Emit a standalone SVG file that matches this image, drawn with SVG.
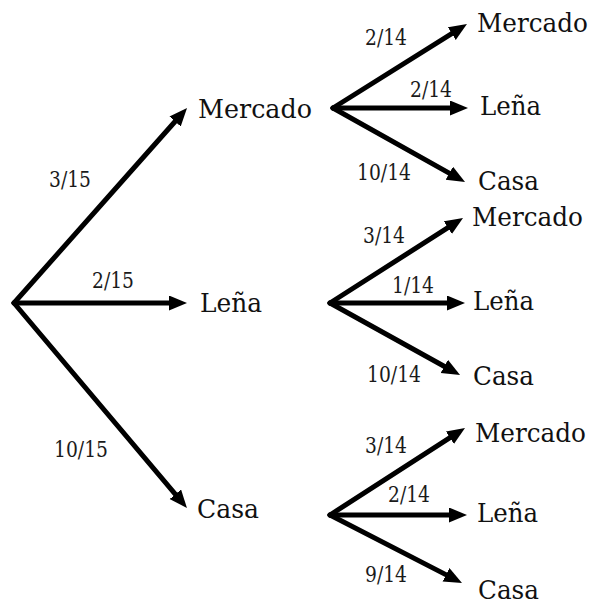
<svg xmlns="http://www.w3.org/2000/svg" width="594" height="605" viewBox="0 0 594 605">
<style>
text{font-family:"DejaVu Serif","Liberation Serif",serif}
.lbl{font-size:26px;fill:#111}
.frac{font-size:22px;fill:#1a1a1a}
.edge{stroke:#000;stroke-width:5;fill:none;stroke-linecap:round;marker-end:url(#ah)}
</style>
<defs>
<marker id="ah" markerUnits="userSpaceOnUse" markerWidth="20" markerHeight="16" refX="8" refY="7.5" orient="auto">
<path d="M0,0 L18,7.5 L0,15 z" fill="#000"/>
</marker>
</defs>
<rect width="594" height="605" fill="#fff"/>
<g id="connectors">
<path class="edge" d="M14,303 L180.4,115.5"/>
<path class="edge" d="M14,303 L177,303"/>
<path class="edge" d="M14,303 L180.5,500.4"/>
<path class="edge" d="M333,108 L458.5,29.3"/>
<path class="edge" d="M333,108 L458,108"/>
<path class="edge" d="M333,108 L456.3,177.1"/>
<path class="edge" d="M330,303 L454.6,223.4"/>
<path class="edge" d="M330,303 L455,303"/>
<path class="edge" d="M330,303 L451.3,370.2"/>
<path class="edge" d="M330,515 L456.6,433.4"/>
<path class="edge" d="M330,515 L457,515"/>
<path class="edge" d="M330,515 L453.1,578.4"/>
</g>
<g id="edge-labels">
<text class="frac" x="49" y="187" textLength="42" lengthAdjust="spacingAndGlyphs">3/15</text>
<text class="frac" x="92" y="288" textLength="42" lengthAdjust="spacingAndGlyphs">2/15</text>
<text class="frac" x="54" y="457" textLength="54" lengthAdjust="spacingAndGlyphs">10/15</text>
<text class="frac" x="365" y="45" textLength="42" lengthAdjust="spacingAndGlyphs">2/14</text>
<text class="frac" x="410" y="97" textLength="42" lengthAdjust="spacingAndGlyphs">2/14</text>
<text class="frac" x="357" y="180" textLength="54" lengthAdjust="spacingAndGlyphs">10/14</text>
<text class="frac" x="363" y="243" textLength="42" lengthAdjust="spacingAndGlyphs">3/14</text>
<text class="frac" x="392" y="293" textLength="42" lengthAdjust="spacingAndGlyphs">1/14</text>
<text class="frac" x="367" y="382" textLength="54" lengthAdjust="spacingAndGlyphs">10/14</text>
<text class="frac" x="365" y="453" textLength="42" lengthAdjust="spacingAndGlyphs">3/14</text>
<text class="frac" x="388" y="502" textLength="42" lengthAdjust="spacingAndGlyphs">2/14</text>
<text class="frac" x="365" y="582" textLength="42" lengthAdjust="spacingAndGlyphs">9/14</text>
</g>
<g id="n-mercado"><text class="lbl" x="198" y="118" textLength="114" lengthAdjust="spacingAndGlyphs">Mercado</text></g>
<g id="n-lena"><text class="lbl" x="200" y="312" textLength="62" lengthAdjust="spacingAndGlyphs">Leña</text></g>
<g id="n-casa"><text class="lbl" x="197" y="518" textLength="62" lengthAdjust="spacingAndGlyphs">Casa</text></g>
<g id="n-mercado-mercado"><text class="lbl" x="477" y="32" textLength="111" lengthAdjust="spacingAndGlyphs">Mercado</text></g>
<g id="n-mercado-lena"><text class="lbl" x="480" y="115" textLength="61" lengthAdjust="spacingAndGlyphs">Leña</text></g>
<g id="n-mercado-casa"><text class="lbl" x="478" y="190" textLength="61" lengthAdjust="spacingAndGlyphs">Casa</text></g>
<g id="n-lena-mercado"><text class="lbl" x="472" y="226" textLength="111" lengthAdjust="spacingAndGlyphs">Mercado</text></g>
<g id="n-lena-lena"><text class="lbl" x="473" y="310" textLength="61" lengthAdjust="spacingAndGlyphs">Leña</text></g>
<g id="n-lena-casa"><text class="lbl" x="473" y="385" textLength="61" lengthAdjust="spacingAndGlyphs">Casa</text></g>
<g id="n-casa-mercado"><text class="lbl" x="475" y="442" textLength="111" lengthAdjust="spacingAndGlyphs">Mercado</text></g>
<g id="n-casa-lena"><text class="lbl" x="477" y="522" textLength="61" lengthAdjust="spacingAndGlyphs">Leña</text></g>
<g id="n-casa-casa"><text class="lbl" x="478" y="599" textLength="61" lengthAdjust="spacingAndGlyphs">Casa</text></g>
</svg>
